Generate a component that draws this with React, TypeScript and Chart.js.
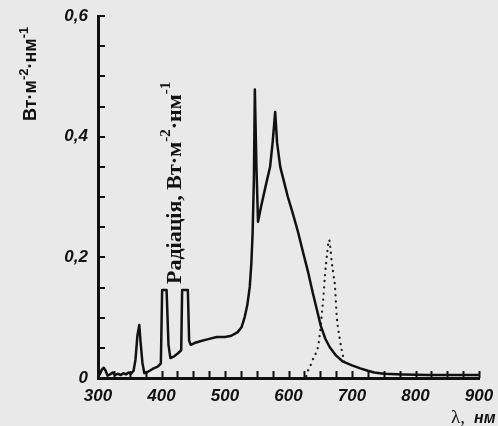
import React, { useEffect, useRef } from "react";
import { Chart, registerables } from "chart.js";

Chart.register(...registerables);

// Lamp emission spectrum (solid line)
const lampNm = [300, 303, 306, 309, 312, 315, 319, 323, 327, 331, 336, 340, 344, 348, 352, 356, 359, 362, 365, 367, 370, 373, 378, 386, 394, 399, 401, 408, 411, 414, 420, 426, 431, 432.5, 441.5, 443.5, 446, 452, 461, 472, 487, 500, 510, 520, 526, 531, 535, 539, 541.5, 543.5, 545.5, 547, 549.5, 552, 557, 564, 571, 575, 579, 582, 587, 593, 599, 607, 615, 623, 631, 638, 645, 651, 658, 665, 675, 686, 700, 713, 725, 735, 750, 780, 820, 860, 900];
const lampVal = [0.004, 0.006, 0.014, 0.017, 0.012, 0.004, 0.006, 0.009, 0.005, 0.007, 0.005, 0.008, 0.006, 0.009, 0.007, 0.012, 0.03, 0.07, 0.088, 0.06, 0.025, 0.008, 0.01, 0.015, 0.019, 0.024, 0.146, 0.146, 0.055, 0.033, 0.036, 0.041, 0.046, 0.146, 0.146, 0.062, 0.055, 0.058, 0.061, 0.064, 0.068, 0.068, 0.07, 0.076, 0.084, 0.101, 0.12, 0.151, 0.19, 0.24, 0.33, 0.478, 0.35, 0.259, 0.285, 0.318, 0.35, 0.39, 0.441, 0.39, 0.35, 0.325, 0.3, 0.272, 0.242, 0.208, 0.175, 0.142, 0.112, 0.086, 0.065, 0.051, 0.037, 0.027, 0.021, 0.016, 0.012, 0.009, 0.007, 0.006, 0.005, 0.005, 0.005];

// Dotted curve
const dotNm = [628, 631, 636, 640, 644, 647, 650, 652, 655, 657.5, 661, 664, 666, 668, 671, 673, 676, 681, 686, 690];
const dotVal = [0.003, 0.013, 0.024, 0.035, 0.043, 0.055, 0.078, 0.1, 0.135, 0.171, 0.207, 0.229, 0.215, 0.193, 0.17, 0.154, 0.102, 0.063, 0.035, 0.018];

const xLabelValues = [300, 400, 500, 600, 700, 800, 900];
const yLabelValues = [0, 0.2, 0.4, 0.6];
const yLabelTexts = ["0", "0,2", "0,4", "0,6"];

const INK = "#111";

type Seg = { t: string; f: string; dy?: number };
function drawRich(ctx: CanvasRenderingContext2D, segs: Seg[]) {
  let x = 0;
  for (const s of segs) {
    ctx.font = s.f;
    ctx.fillText(s.t, x, s.dy || 0);
    x += ctx.measureText(s.t).width;
  }
}

const decorPlugin = {
  id: "decor",
  beforeDraw(chart: any) {
    const ctx = chart.ctx;
    ctx.save();
    ctx.fillStyle = "#e9e9e9";
    ctx.fillRect(0, 0, chart.width, chart.height);
    ctx.restore();
  },
  afterDraw(chart: any) {
    const ctx: CanvasRenderingContext2D = chart.ctx;
    const xs = chart.scales.x;
    const ys = chart.scales.y;
    const area = chart.chartArea;
    ctx.save();
    ctx.strokeStyle = INK;
    ctx.lineWidth = 2;
    // inward ticks
    for (const t of xs.ticks) {
      const px = Math.round(xs.getPixelForValue(t.value)) + 0.5;
      ctx.beginPath();
      ctx.moveTo(px, area.bottom);
      ctx.lineTo(px, area.bottom - 7);
      ctx.stroke();
    }
    for (const t of ys.ticks) {
      const py = Math.round(ys.getPixelForValue(t.value));
      ctx.beginPath();
      ctx.moveTo(area.left, py);
      ctx.lineTo(area.left + 7, py);
      ctx.stroke();
    }
    ctx.fillStyle = INK;
    ctx.textBaseline = "alphabetic";
    ctx.textAlign = "left";
    // outer y title
    ctx.save();
    ctx.translate(36, 121);
    ctx.rotate(-Math.PI / 2);
    drawRich(ctx, [
      { t: "Вт·м", f: "bold 18px 'Liberation Sans', Arial, sans-serif" },
      { t: "-2", f: "bold 13px 'Liberation Sans', Arial, sans-serif", dy: -8 },
      { t: "·нм", f: "bold 18px 'Liberation Sans', Arial, sans-serif" },
      { t: "-1", f: "bold 13px 'Liberation Sans', Arial, sans-serif", dy: -8 },
    ]);
    ctx.restore();
    // inner title
    ctx.save();
    ctx.translate(181, 284);
    ctx.rotate(-Math.PI / 2);
    drawRich(ctx, [
      { t: "Радіація, Вт·м", f: "bold 22px 'Liberation Serif', 'Times New Roman', serif" },
      { t: "-2", f: "bold 15px 'Liberation Serif', 'Times New Roman', serif", dy: -11 },
      { t: "·нм", f: "bold 22px 'Liberation Serif', 'Times New Roman', serif" },
      { t: "-1", f: "bold 15px 'Liberation Serif', 'Times New Roman', serif", dy: -11 },
    ]);
    ctx.restore();
    // x title
    ctx.font = "19px 'Liberation Serif', 'Times New Roman', serif";
    ctx.fillText("λ,", 451, 423);
    ctx.font = "italic bold 16px 'Liberation Sans', Arial, sans-serif";
    ctx.fillText("нм", 474, 423);
    ctx.restore();
  },
};

export default function App() {
  const ref = useRef<HTMLCanvasElement | null>(null);
  useEffect(() => {
    if (!ref.current) return;
    const tickFont = { family: "'Liberation Sans', Arial, sans-serif", size: 17, weight: "bold" as const, style: "italic" as const };
    const chart = new Chart(ref.current, {
      type: "line",
      data: {
        datasets: [
          {
            data: lampNm.map((x, i) => ({ x, y: lampVal[i] })),
            borderColor: INK,
            borderWidth: 2.5,
            pointRadius: 0,
            tension: 0,
            borderJoinStyle: "round",
            fill: false,
          },
          {
            data: dotNm.map((x, i) => ({ x, y: dotVal[i] })),
            borderColor: "#222",
            borderWidth: 2.3,
            borderDash: [0.1, 6],
            borderCapStyle: "round",
            pointRadius: 0,
            cubicInterpolationMode: "monotone",
            fill: false,
          },
        ],
      },
      options: {
        animation: false,
        responsive: false,
        maintainAspectRatio: false,
        devicePixelRatio: 1,
        layout: { padding: { left: 0, right: 19, top: 16, bottom: 0 } },
        plugins: { legend: { display: false }, tooltip: { enabled: false } },
        scales: {
          x: {
            type: "linear",
            min: 300,
            max: 900,
            grid: { display: false },
            border: { display: true, color: INK, width: 3 },
            afterFit: (s: any) => { s.height = 48; },
            ticks: {
              stepSize: 25,
              autoSkip: false,
              maxRotation: 0,
              padding: 0,
              color: INK,
              font: tickFont,
              callback: (v: any) => (xLabelValues.includes(Number(v)) ? String(v) : ""),
            },
          },
          y: {
            type: "linear",
            min: 0,
            max: 0.6,
            grid: { display: false },
            border: { display: true, color: INK, width: 3 },
            afterFit: (s: any) => { s.width = 98; },
            ticks: {
              stepSize: 0.05,
              autoSkip: false,
              padding: 2,
              color: INK,
              font: tickFont,
              callback: (v: any) => {
                const i = yLabelValues.findIndex((y) => Math.abs(y - Number(v)) < 1e-6);
                return i >= 0 ? yLabelTexts[i] : "";
              },
            },
          },
        },
      },
      plugins: [decorPlugin],
    } as any);
    return () => chart.destroy();
  }, []);
  return (
    <div style={{ position: "fixed", left: 0, top: 0, width: 498, height: 426, background: "#e9e9e9" }}>
      <canvas ref={ref} width={498} height={426} style={{ display: "block" }} />
    </div>
  );
}
